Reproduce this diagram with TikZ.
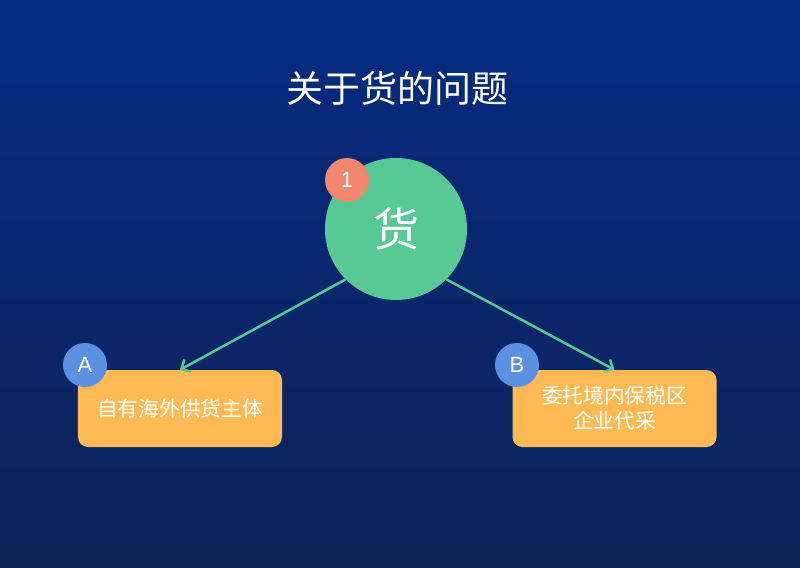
\documentclass[tikz,border=0pt]{standalone}
\usepackage{fontspec}
\newfontfamily\cjk{Noto Sans CJK SC}
\newfontfamily\lat{Liberation Sans}
\usetikzlibrary{arrows.meta,shapes.geometric}
\definecolor{bgtop}{HTML}{052B82}
\definecolor{bgbot}{HTML}{0E2257}
\definecolor{gr}{HTML}{56C994}
\definecolor{org}{HTML}{FFB955}
\definecolor{sal}{HTML}{F0866E}
\definecolor{blu}{HTML}{5B90E3}
\tikzset{
  ttl/.style={text=white,font=\cjk\fontsize{37bp}{40bp}\selectfont,inner sep=0},
  hub/.style={circle,fill=gr,minimum size=142bp,inner sep=0,text=white,font=\cjk\fontsize{46bp}{50bp}\selectfont},
  badge/.style={circle,minimum size=44bp,inner sep=0,text=white,font=\lat\fontsize{22bp}{24bp}\selectfont},
  leaf/.style={rectangle,rounded corners=10bp,fill=org,minimum width=204bp,minimum height=77bp,inner sep=0,text=white,align=center,font=\cjk\fontsize{20.7bp}{25bp}\selectfont},
  conn/.style={gr,line width=2.5bp,-{Straight Barb[length=7bp,width=14bp,line width=2.5bp]}}
}
\begin{document}
\begin{tikzpicture}[x=1bp,y=-1bp]
\shade[top color=bgtop,bottom color=bgbot] (0,0) rectangle (800,568);
\useasboundingbox (0,0) rectangle (800,568);
\node[ttl] (title) at (397,88) {关于货的问题};
\node[hub] (hub) at (396,229) {货};
\node[badge,fill=sal] (b1) at (347,180) {1};
\node[leaf] (la) at (180,408.5) {自有海外供货主体};
\node[leaf] (lb) at (614.5,408.5) {委托境内保税区\\企业代采};
\node[badge,fill=blu] (ba) at (85,365) {A};
\node[badge,fill=blu] (bb) at (517,365) {B};
\draw[conn] (hub.south west) -- (la.north);
\draw[conn] (hub.south east) -- (lb.north);
\end{tikzpicture}
\end{document}
